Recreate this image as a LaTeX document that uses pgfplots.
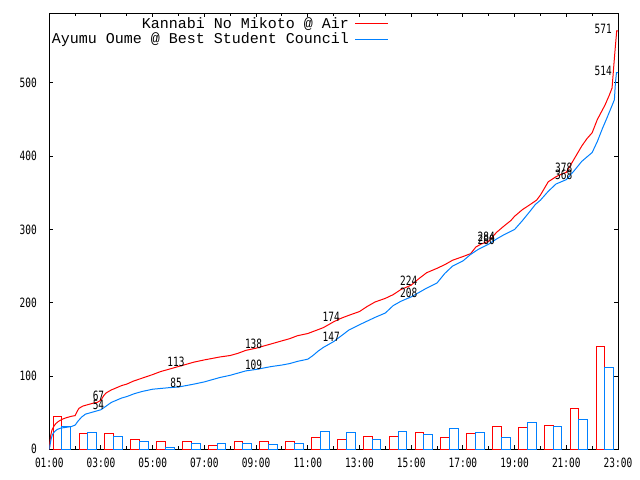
\documentclass[border=0pt]{standalone}
\usepackage{pgfplots}
\pgfplotsset{compat=1.18}
\usepackage{fontspec}
\newfontfamily\tickfontfam[FakeStretch=0.74]{DejaVu Sans Mono}
\newfontfamily\legendfontfam{Liberation Mono}
\newcommand\tickfont{\tickfontfam\fontsize{12.8bp}{13bp}\selectfont}
\newcommand\legendfont{\legendfontfam\fontsize{15bp}{15bp}\selectfont}
\definecolor{gpred}{RGB}{255,0,0}
\definecolor{gpblue}{RGB}{0,128,255}

\pgfplotstableread{
h v
1.00 0
1.02 8
1.05 18
1.10 26
1.17 31
1.25 35
1.35 38
1.50 41
1.65 43
1.85 45
2.00 46
2.08 52
2.15 56
2.30 59
2.50 61
2.70 63
2.85 64
3.00 67
3.10 73
3.20 77
3.40 81
3.60 84
3.80 87
4.00 89
4.25 93
4.50 96
4.75 99
5.00 102
5.30 106
5.60 109
6.00 113
6.30 116
6.60 119
7.00 122
7.30 124
7.60 126
8.00 128
8.30 131
8.60 135
9.00 138
9.30 141
9.60 144
10.00 148
10.30 151
10.60 155
11.00 158
11.30 162
11.60 166
12.00 174
12.30 179
12.60 183
13.00 188
13.30 195
13.60 201
14.00 206
14.30 211
14.60 218
15.00 224
15.30 233
15.60 241
16.00 247
16.30 252
16.60 258
17.00 263
17.30 267
17.50 276
17.70 280
18.00 284
18.30 296
18.60 305
18.85 312
19.00 318
19.30 327
19.60 334
19.85 340
20.00 347
20.30 365
20.60 372
20.85 376
21.00 378
21.20 390
21.40 402
21.60 414
21.80 424
22.00 432
22.20 450
22.50 470
22.66 483
22.77 493
22.87 538
22.95 571
23.00 571
}\redcum

\pgfplotstableread{
h v
1.00 0
1.03 6
1.07 14
1.12 20
1.20 24
1.30 27
1.45 29
1.65 30
1.85 31
2.00 33
2.10 38
2.25 44
2.40 48
2.60 50
2.80 52
3.00 54
3.20 59
3.40 64
3.60 67
3.80 70
4.00 72
4.30 76
4.60 79
5.00 82
5.30 83
5.60 84
6.00 85
6.30 87
6.60 89
7.00 92
7.30 95
7.60 98
8.00 101
8.30 104
8.60 107
9.00 109
9.30 111
9.60 113
10.00 115
10.30 117
10.60 120
11.00 123
11.20 128
11.40 134
11.60 139
11.80 143
12.00 147
12.30 155
12.60 163
13.00 170
13.30 175
13.60 180
14.00 186
14.30 196
14.60 202
15.00 208
15.30 214
15.60 220
16.00 227
16.30 240
16.60 250
17.00 257
17.30 266
17.60 273
18.00 280
18.30 287
18.60 293
19.00 300
19.30 312
19.60 325
19.80 334
20.00 340
20.30 352
20.60 362
21.00 368
21.30 380
21.60 393
22.00 405
22.20 420
22.40 438
22.57 452
22.78 470
22.86 477
22.90 500
22.94 514
23.00 514
}\bluecum

\pgfplotstableread{
h n
1.32 45
2.32 22
3.32 22
4.32 13
5.32 11
6.32 10
7.32 5
8.32 10
9.32 10
10.32 10
11.32 16
12.32 14
13.32 18
14.32 18
15.32 23
16.32 16
17.32 21
18.32 31
19.32 30
20.32 33
21.32 55
22.32 140
}\redbars

\pgfplotstableread{
h n
1.66 31
2.66 23
3.66 17
4.66 11
5.66 3
6.66 8
7.66 8
8.66 8
9.66 6
10.66 8
11.66 24
12.66 23
13.66 14
14.66 24
15.66 20
16.66 29
17.66 23
18.66 16
19.66 36
20.66 31
21.66 40
22.66 112
}\bluebars

\begin{document}
\begin{tikzpicture}
\path[use as bounding box] (-49.3bp,-30.7bp) rectangle (590.7bp,449.3bp);
\begin{axis}[
  scale only axis,
  width=568.7bp, height=436bp,
  xmin=1, xmax=23, ymin=0, ymax=595,
  xtick={1,3,...,23},
  xticklabels={01:00,03:00,05:00,07:00,09:00,11:00,13:00,15:00,17:00,19:00,21:00,23:00},
  minor xtick={2,4,...,22},
  ytick={0,100,...,500},
  tick pos=both, tick align=inside,
  major tick length=4bp, minor tick length=3bp,
  every tick/.style={black, line width=1bp},
  axis line style={line width=1bp},
  /pgf/number format/assume math mode=true,
  ticklabel style={font=\tickfont},
  yticklabel style={xshift=-9bp},
  xticklabel style={yshift=-5bp},
  legend style={at={(0.6026,0.996)}, anchor=north east, draw=none, fill=none,
    font=\legendfont, legend cell align=right, row sep=2bp,
    nodes={inner xsep=6bp, inner ysep=0.5bp}},
  legend plot pos=right,
  legend image code/.code={\draw[#1] (0bp,0bp) -- (33bp,0bp);},
]
\addplot[ybar, bar width=0.34, bar shift=0pt, draw=gpred, fill=none, line width=1bp, forget plot] table[x=h,y=n] {\redbars};
\addplot[ybar, bar width=0.34, bar shift=0pt, draw=gpblue, fill=none, line width=1bp, forget plot] table[x=h,y=n] {\bluebars};
\addplot[gpred, line width=1bp, mark=none] table[x=h,y=v] {\redcum};
\addlegendentry{Kannabi No Mikoto @ Air}
\addplot[gpblue, line width=1bp, mark=none] table[x=h,y=v] {\bluecum};
\addlegendentry{Ayumu Oume @ Best Student Council}
\addplot[only marks, mark=none, forget plot, nodes near coords, point meta=explicit symbolic,
  every node near coord/.append style={font=\tickfont, anchor=center, yshift=4.5bp, xshift=-2.5bp, inner sep=0pt, text=black}]
  coordinates {(3,67)[67] (6,113)[113] (9,138)[138] (12,174)[174] (15,224)[224] (18,284)[284] (21,378)[378]
               (3,54)[54] (6,85)[85] (9,109)[109] (12,147)[147] (15,208)[208] (18,280)[280] (21,368)[368]};
\addplot[only marks, mark=none, forget plot, nodes near coords, point meta=explicit symbolic,
  every node near coord/.append style={font=\tickfont, anchor=east, yshift=1.5bp, xshift=-6bp, inner sep=0pt, text=black}]
  coordinates {(23,571)[571] (23,514)[514]};
\end{axis}
\end{tikzpicture}
\end{document}
